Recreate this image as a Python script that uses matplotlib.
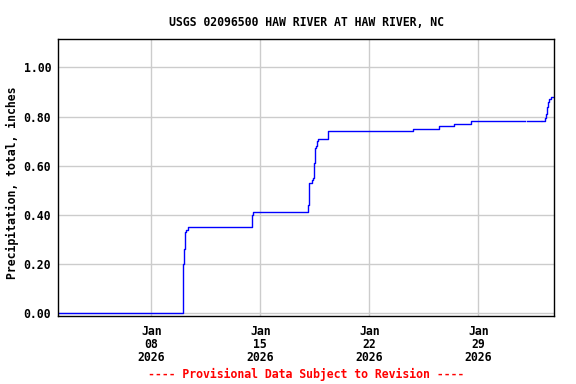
import matplotlib
matplotlib.use("Agg")
import matplotlib.pyplot as plt
import matplotlib.dates as mdates
import numpy as np
import pandas as pd

title = "USGS 02096500 HAW RIVER AT HAW RIVER, NC"
ylabel = "Precipitation, total, inches"
footer = "---- Provisional Data Subject to Revision ----"

# cumulative precipitation readings (step changes); NaN marks gaps in record
times = ["2026-01-02 00:00", "2026-01-10 00:25", "2026-01-10 01:30", "2026-01-10 02:50",
         "2026-01-10 04:20", "2026-01-10 06:00", "2026-01-10 09:00", "2026-01-14 11:40",
         "2026-01-14 13:10", "2026-01-18 02:00", "2026-01-18 03:35", "2026-01-18 08:10",
         "2026-01-18 09:40", "2026-01-18 11:15", "2026-01-18 12:45", "2026-01-18 14:15",
         "2026-01-18 15:50", "2026-01-18 17:20", "2026-01-19 08:50", "2026-01-24 19:55",
         "2026-01-26 12:00", "2026-01-27 11:00", "2026-01-28 13:10", "2026-02-01 00:00",
         "2026-02-01 02:40", "2026-02-02 00:40", "2026-02-02 02:40", "2026-02-02 06:50",
         "2026-02-02 08:20", "2026-02-02 09:50", "2026-02-02 11:30", "2026-02-02 13:00",
         "2026-02-02 16:00", "2026-02-02 21:15"]
values = [0.00, 0.07, 0.20, 0.26,
          0.33, 0.34, 0.35, 0.40,
          0.41, 0.44, 0.53, 0.54,
          0.55, 0.61, 0.67, 0.68,
          0.70, 0.71, 0.74, 0.75,
          0.76, 0.77, 0.78, np.nan,
          0.78, np.nan, 0.78, 0.795,
          0.81, 0.84, 0.86, 0.87,
          0.88, 0.88]

xticks = ["2026-01-08", "2026-01-15", "2026-01-22", "2026-01-29"]
yticks = [0.0, 0.2, 0.4, 0.6, 0.8, 1.0]

mono = "DejaVu Sans Mono"
fs = 8.3

t = pd.to_datetime(times)
fig = plt.figure(figsize=(5.76, 3.84), dpi=100)
ax = fig.add_axes([58 / 576, 1 - 315.7 / 384, (554.3 - 58) / 576, (315.7 - 39.3) / 384])

ax.plot(t, values, color="#0000ff", linewidth=1.0, drawstyle="steps-post")

ax.set_xlim(pd.Timestamp("2026-01-02 00:00"), pd.Timestamp("2026-02-02 21:15"))
ax.set_ylim(-0.01, 1.114)
ax.set_xticks(pd.to_datetime(xticks))
ax.xaxis.set_major_formatter(mdates.DateFormatter("%b\n%d\n%Y"))
ax.set_yticks(yticks)
ax.set_yticklabels(["%.2f" % v for v in yticks])
ax.grid(True, color="#cccccc", linewidth=1.0)
ax.set_axisbelow(True)
ax.tick_params(axis="y", length=0, pad=5)
ax.tick_params(axis="x", length=0, pad=7)
for lab in ax.get_xticklabels() + ax.get_yticklabels():
    lab.set_family(mono)
    lab.set_weight("bold")
    lab.set_fontsize(fs)
    lab.set_linespacing(0.98)
for s in ax.spines.values():
    s.set_linewidth(1.0)

ax.set_ylabel(ylabel, family=mono, weight="bold", fontsize=fs, va="center")
ax.yaxis.set_label_coords((12 - 58) / 496.3, 0.48)
fig.text(0.5 * (58 + 554.3) / 576, 1 - 22.8 / 384, title, family=mono, weight="bold",
         fontsize=fs, ha="center", va="center")
fig.text(0.5 * (58 + 554.3) / 576, 1 - 374.3 / 384, footer, family=mono, weight="bold",
         fontsize=fs, ha="center", va="center", color="red")

fig.savefig("out.png", dpi=100)
